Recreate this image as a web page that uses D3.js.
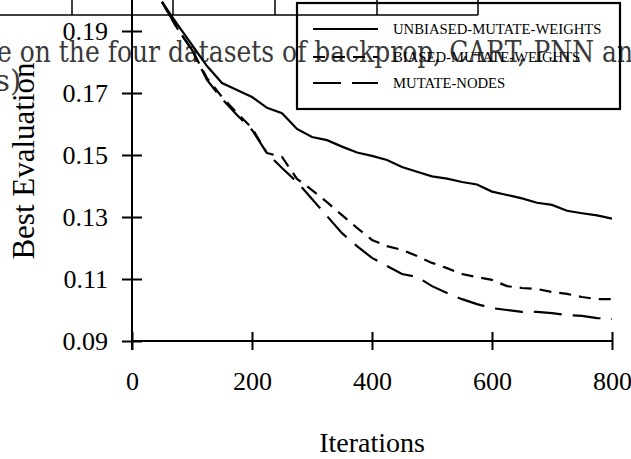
<!DOCTYPE html>
<meta charset="utf-8">
<script src="https://d3js.org/d3.v7.min.js"></script>
<style>
  body { margin: 0; background: #fff; }
  svg { display: block; }
</style>
<div id="my_dataviz"></div>
<script>

// iterations sampled every 25 steps
var iterations = [50, 75, 100, 125, 150, 175, 200, 225, 250, 275, 300, 325, 350, 375, 400,
  425, 450, 475, 500, 525, 550, 575, 600, 625, 650, 675, 700, 725, 750, 775, 800];

var unbiased = [0.1994, 0.1923, 0.1855, 0.1787, 0.1732, 0.1710, 0.1687, 0.1652, 0.1635, 0.1584,
  0.1558, 0.1548, 0.1527, 0.1508, 0.1497, 0.1484, 0.1461, 0.1446, 0.1431, 0.1424,
  0.1413, 0.1405, 0.1382, 0.1371, 0.1360, 0.1346, 0.1339, 0.1320, 0.1312, 0.1305, 0.1295];

var biased = [0.1994, 0.1910, 0.1839, 0.1748, 0.1687, 0.1635, 0.1587, 0.1506, 0.1494, 0.1423,
  0.1387, 0.1348, 0.1306, 0.1265, 0.1226, 0.1206, 0.1194, 0.1174, 0.1152, 0.1135,
  0.1116, 0.1106, 0.1097, 0.1077, 0.1071, 0.1068, 0.1058, 0.1052, 0.1042, 0.1035, 0.1035];

var nodes = [0.1994, 0.1910, 0.1839, 0.1742, 0.1681, 0.1629, 0.1581, 0.1506, 0.1458, 0.1413,
  0.1358, 0.1303, 0.1248, 0.1206, 0.1168, 0.1142, 0.1116, 0.1107, 0.1077, 0.1055,
  0.1035, 0.1019, 0.1006, 0.1000, 0.0994, 0.0994, 0.0990, 0.0984, 0.0981, 0.0974, 0.0971];

var seriesNames = ["UNBIASED-MUTATE-WEIGHTS", "BIASED-MUTATE-WEIGHTS", "MUTATE-NODES"];
var xTicks = [0, 200, 400, 600, 800];
var yTicks = [0.09, 0.11, 0.13, 0.15, 0.17, 0.19];

// bits of the scanned page that bleed into the figure
var tableCols = [72, 173, 275, 377, 478];
var strayLine = "e on the four datasets of backprop, CART, PNN an";

var width = 631, height = 459;

var svg = d3.select("#my_dataviz")
  .append("svg")
    .attr("width", width)
    .attr("height", height)
    .style("font-family", "'Liberation Serif', 'Times New Roman', serif");

var x = d3.scaleLinear().domain([0, 800]).range([132, 612]);
var y = d3.scaleLinear().domain([0.09, 0.19]).range([341, 31]);

// table rule at the very top
svg.append("line")
  .attr("x1", 0).attr("x2", 478).attr("y1", 15).attr("y2", 15)
  .style("stroke", "#000").style("stroke-width", 1.5);
svg.selectAll(".tcol")
  .data(tableCols)
  .enter()
  .append("line")
    .attr("x1", function(d) { return d; })
    .attr("x2", function(d) { return d; })
    .attr("y1", 0).attr("y2", 15)
    .style("stroke", "#000").style("stroke-width", 1.5);

// overprinted text line from the page
svg.append("text")
  .attr("x", -3).attr("y", 62)
  .attr("textLength", 636)
  .attr("lengthAdjust", "spacingAndGlyphs")
  .style("font-family", "'DejaVu Serif', serif")
  .style("font-size", "29px")
  .style("fill", "#3a3a3a")
  .text(strayLine);
svg.append("text")
  .attr("x", -5).attr("y", 91)
  .style("font-family", "'DejaVu Serif', serif")
  .style("font-size", "29px")
  .style("fill", "#3a3a3a")
  .text("s)");

// y axis (line runs off the top)
svg.append("line")
  .attr("x1", 132).attr("x2", 132).attr("y1", 0).attr("y2", 350)
  .style("stroke", "#000").style("stroke-width", 2);
var yAxis = svg.append("g")
  .attr("transform", "translate(132,0)")
  .call(d3.axisLeft(y).tickValues(yTicks).tickFormat(d3.format(".2f")).tickSize(10));
yAxis.select(".domain").remove();
yAxis.selectAll(".tick line").attr("x1", -10).attr("x2", 10)
  .style("stroke", "#000").style("stroke-width", 2);
yAxis.selectAll(".tick text")
  .attr("x", -24)
  .style("font-family", "'Liberation Serif', serif")
  .style("font-size", "26px")
  .style("fill", "#000");

// x axis
svg.append("line")
  .attr("x1", 132).attr("x2", 612).attr("y1", 341).attr("y2", 341)
  .style("stroke", "#000").style("stroke-width", 2);
var xAxis = svg.append("g")
  .attr("transform", "translate(0,341)")
  .call(d3.axisBottom(x).tickValues(xTicks).tickFormat(d3.format("d")).tickSize(9));
xAxis.select(".domain").remove();
xAxis.selectAll(".tick line").attr("y1", -9).attr("y2", 9)
  .style("stroke", "#000").style("stroke-width", 2);
xAxis.selectAll(".tick text")
  .attr("y", 40)
  .attr("dy", "0.35em")
  .style("font-family", "'Liberation Serif', serif")
  .style("font-size", "26px")
  .style("fill", "#000");

// axis titles
svg.append("text")
  .attr("x", 372).attr("y", 452)
  .style("text-anchor", "middle")
  .style("font-size", "28px")
  .text("Iterations");
svg.append("text")
  .attr("transform", "translate(34,161) rotate(-90)")
  .style("text-anchor", "middle")
  .style("font-size", "31px")
  .text("Best Evaluation");

// the three curves
var series = [
  { name: seriesNames[0], values: unbiased, dash: null },
  { name: seriesNames[1], values: biased, dash: "12,8" },
  { name: seriesNames[2], values: nodes, dash: "28,11" }
];

var line = d3.line()
  .x(function(d) { return x(d[0]); })
  .y(function(d) { return y(d[1]); });

svg.selectAll(".curve")
  .data(series)
  .enter()
  .append("path")
    .attr("d", function(s) { return line(d3.zip(iterations, s.values)); })
    .style("fill", "none")
    .style("stroke", "#000")
    .style("stroke-width", 2.2)
    .style("stroke-dasharray", function(s) { return s.dash; });

// legend box (not filled, the page shows through)
svg.append("rect")
  .attr("x", 297).attr("y", 3).attr("width", 323).attr("height", 106)
  .style("fill", "none").style("stroke", "#000").style("stroke-width", 2.2);

var legend = svg.selectAll(".leg")
  .data(series)
  .enter()
  .append("g")
    .attr("transform", function(d, i) { return "translate(0," + [29, 57, 83][i] + ")"; });
legend.append("line")
  .attr("x1", 313).attr("x2", 378)
  .style("stroke", "#000").style("stroke-width", 2.2)
  .style("stroke-dasharray", function(d) { return d.dash; });
legend.append("text")
  .attr("x", 393).attr("dy", "0.35em")
  .style("font-size", "14.7px")
  .text(function(d) { return d.name; });

</script>
